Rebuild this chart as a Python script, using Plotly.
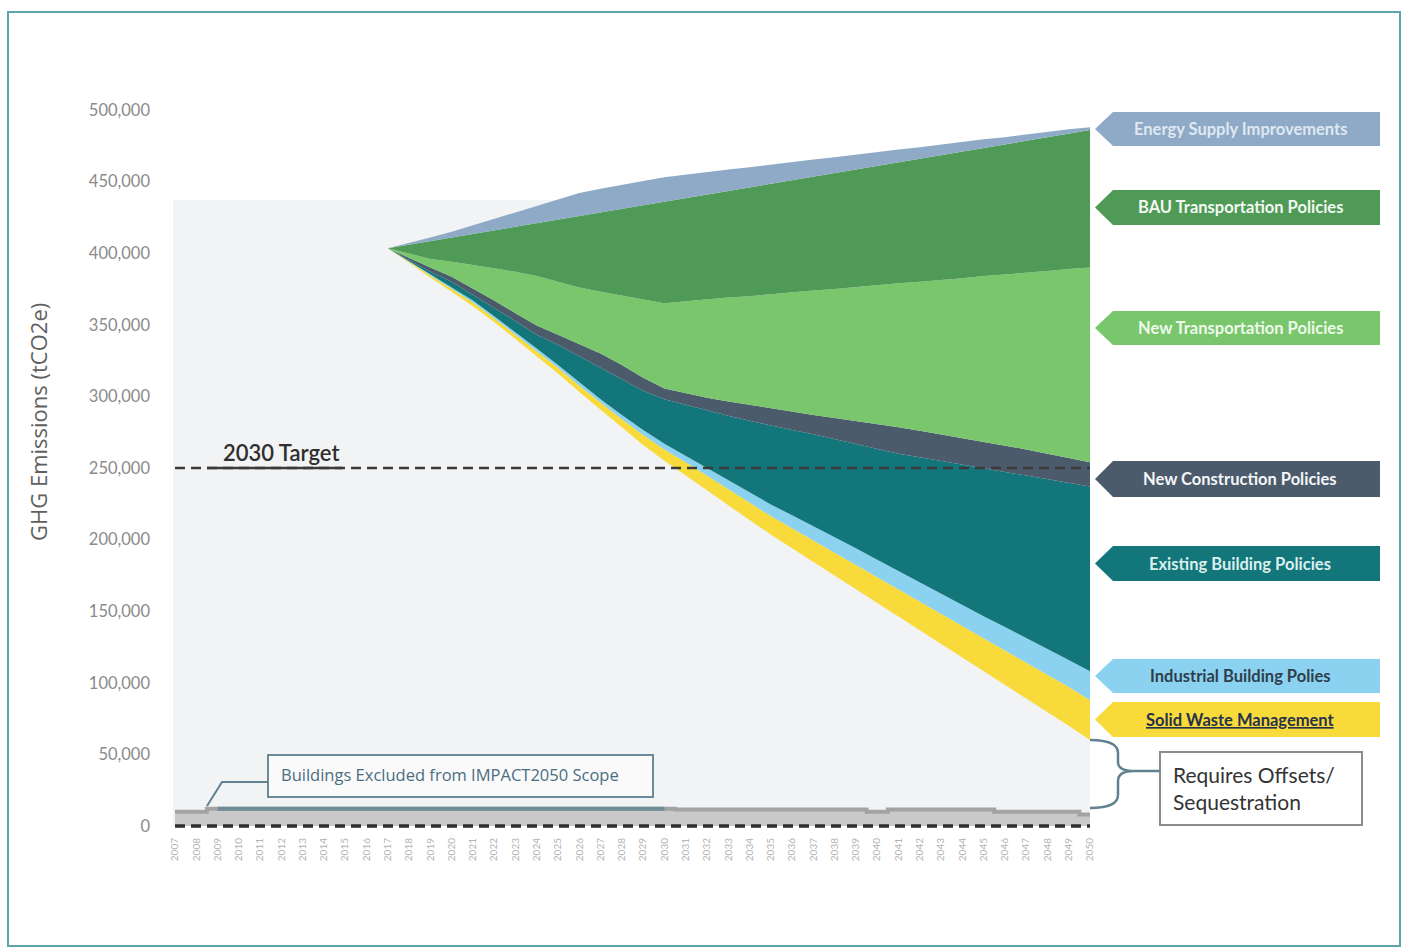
import plotly.graph_objects as go

# ---------------- data ----------------
YEARS_ALL = list(range(2007, 2051))
YEARS = list(range(2017, 2051))
TICK_YEARS = [str(y) for y in YEARS_ALL]

# Emission trajectories (thousand tCO2e): top edge of each wedge, bottom to top
REMAINING_KT = [403.5, 393, 383, 373, 363, 352, 340, 328, 316, 303,
                290.5, 278, 266, 255, 245, 234.5, 224, 213.5, 203.5, 194,
                184.5, 175, 165.5, 156, 146.5, 137, 127.5, 118, 108.5, 99,
                89.5, 80, 70, 60]
SOLID_WASTE_KT = [403.5, 394, 384.5, 375, 365.5, 354.5, 343, 331.5, 320, 307.5,
                  295.5, 284, 273, 263, 254, 244.5, 235, 225.5, 216.5, 208,
                  199.5, 191, 182.5, 174, 165.5, 157, 148.5, 140, 131.5, 123,
                  114.5, 106, 97, 88]
INDUSTRIAL_KT = [403.5, 394.5, 385.5, 376, 367, 356, 345, 333.5, 322, 310,
                 298, 287, 276.5, 267, 258.5, 249.5, 241, 232.5, 224.5, 217,
                 209.5, 202, 194, 186, 178, 170, 162, 154, 146.5, 139,
                 131.5, 124, 116, 108]
EXISTING_BLDG_KT = [403.5, 395.5, 387, 380, 371, 361.5, 352.5, 343, 336, 328,
                    320, 312, 304, 298, 294, 290, 286.5, 283, 279.5, 276.5,
                    273.5, 270, 266.5, 263, 260, 257.5, 255, 252.5, 250, 247.5,
                    245, 242.5, 240, 237]
NEW_CONSTR_KT = [403.5, 396.5, 390, 383.5, 375.5, 367, 358, 349.5, 343, 336.5,
                 330, 322, 313, 305.5, 302, 299, 296.5, 294, 291.5, 289,
                 287, 285, 283, 281, 278.5, 276, 273.5, 271, 268.5, 266,
                 263, 260, 257, 254]
NEW_TRANSP_KT = [403.5, 399.5, 396, 394, 392, 389.5, 387, 384, 380, 376,
                 373, 370.5, 368, 365, 366.5, 368, 369, 370, 371.5, 373,
                 374, 375, 376.5, 378, 379, 380, 381, 382.5, 384, 385,
                 386, 387.5, 389, 390]
BAU_TRANSP_KT = [403.5, 406, 408.5, 411, 413.5, 416, 418.5, 421, 423.5, 426,
                 428, 430.5, 433, 435.5, 438, 440.5, 443, 445.5, 448, 451,
                 453.5, 456, 458.5, 461, 463.5, 466, 468.5, 471, 473.5, 476,
                 478.5, 481, 483.5, 486]
ENERGY_SUPPLY_KT = [403.5, 407, 411, 415, 419.5, 424, 428.5, 433, 437.5, 442,
                    445, 448, 450.5, 453, 455, 456.5, 458.5, 460, 462, 463.5,
                    465.5, 467, 469, 470.5, 472.5, 474, 476, 477.5, 479.5, 481,
                    483, 484.5, 486.5, 488]

# Buildings excluded from IMPACT2050 scope (thousand tCO2e), 2007-2050
EXCLUDED_KT = [10, 10] + [12] * 22 + [11.5] * 9 + [10] + [11.5] * 5 + [10] * 4 + [8]

TARGET_2030 = 250000
NET_ZERO = 0
Y_TICKS = list(range(0, 500001, 50000))
Y_TICK_LABELS = [f"{v:,}" for v in Y_TICKS]

SERIES = [
    ("Solid Waste Management", SOLID_WASTE_KT),
    ("Industrial Building Polies", INDUSTRIAL_KT),
    ("Existing Building Policies", EXISTING_BLDG_KT),
    ("New Construction Policies", NEW_CONSTR_KT),
    ("New Transportation Policies", NEW_TRANSP_KT),
    ("BAU Transportation Policies", BAU_TRANSP_KT),
    ("Energy Supply Improvements", ENERGY_SUPPLY_KT),
]

# ---------------- styling ----------------
COLORS = {
    "Solid Waste Management": "#f8da3a",
    "Industrial Building Polies": "#8ad2f0",
    "Existing Building Policies": "#12767a",
    "New Construction Policies": "#4b5b6b",
    "New Transportation Policies": "#79c66d",
    "BAU Transportation Policies": "#4f9a56",
    "Energy Supply Improvements": "#8eaac6",
}
TAG_TEXT = {
    "Solid Waste Management": "#26324a",
    "Industrial Building Polies": "#2f3e4c",
    "Existing Building Policies": "#dcefef",
    "New Construction Policies": "#f4f6f8",
    "New Transportation Policies": "#eef9ea",
    "BAU Transportation Policies": "#f2f8f2",
    "Energy Supply Improvements": "#dfe8f2",
}
# pixel rows of the arrow tags on the right (top, bottom)
TAG_ROWS = {
    "Energy Supply Improvements": (112, 146),
    "BAU Transportation Policies": (190, 225),
    "New Transportation Policies": (311, 345),
    "New Construction Policies": (461, 497),
    "Existing Building Policies": (546, 581),
    "Industrial Building Polies": (659, 693),
    "Solid Waste Management": (702, 737),
}

W, H = 1405, 952
ML, MR, MT, MB = 175, 315, 110, 122
PW, PH = W - ML - MR, H - MT - MB


def px(x):
    return (x - ML) / PW


def py(y):
    return (H - MB - y) / PH


def pt(x, y):
    return f"{px(x):.5f},{py(y):.5f}"


fig = go.Figure()

# remaining emissions (base of the wedges)
fig.add_trace(go.Scatter(x=YEARS, y=[v * 1000 for v in REMAINING_KT], mode="lines",
                         line=dict(width=0, color="#f2f3f5"), hoverinfo="skip",
                         showlegend=False))
for name, vals in SERIES:
    fig.add_trace(go.Scatter(x=YEARS, y=[v * 1000 for v in vals], mode="lines",
                             line=dict(width=0, color=COLORS[name]), fill="tonexty",
                             fillcolor=COLORS[name], name=name, hoverinfo="skip",
                             showlegend=False))

# excluded buildings band
fig.add_trace(go.Scatter(x=YEARS_ALL, y=[v * 1000 for v in EXCLUDED_KT], mode="lines",
                         line=dict(width=4, color="#a3a3a3", shape="hvh"), fill="tozeroy",
                         fillcolor="#c9c9c9", hoverinfo="skip", showlegend=False))
fig.add_trace(go.Scatter(x=YEARS_ALL[2:24], y=[v * 1000 for v in EXCLUDED_KT[2:24]], mode="lines",
                         line=dict(width=4, color="#6f8d98", shape="hvh"),
                         hoverinfo="skip", showlegend=False))

# net zero dashed line
fig.add_trace(go.Scatter(x=YEARS_ALL, y=[NET_ZERO] * len(YEARS_ALL), mode="lines",
                         line=dict(width=3.5, color="#2e2e2e", dash="10px,6px"),
                         hoverinfo="skip", showlegend=False))
# 2030 target
fig.add_trace(go.Scatter(x=YEARS_ALL, y=[TARGET_2030] * len(YEARS_ALL), mode="lines",
                         line=dict(width=2.5, color="#3a3a3a", dash="10px,6px"),
                         hoverinfo="skip", showlegend=False))

shapes = []
annotations = []

# light backdrop of the plot area
shapes.append(dict(type="rect", xref="paper", yref="paper", x0=px(173), x1=px(1090),
                   y0=py(826), y1=py(200), fillcolor="#f2f3f5", line=dict(width=0),
                   layer="below"))
# outer frame
shapes.append(dict(type="rect", xref="paper", yref="paper", x0=px(8), x1=px(1400),
                   y0=py(946), y1=py(12), line=dict(color="#5da6ae", width=2),
                   fillcolor="rgba(0,0,0,0)", layer="below"))

# underline of "2030 Target"
shapes.append(dict(type="line", xref="paper", yref="y", x0=px(207), x1=px(342),
                   y0=TARGET_2030, y1=TARGET_2030, line=dict(color="#3a3a3a", width=2.5)))
annotations.append(dict(xref="paper", yref="y", x=px(281), y=TARGET_2030, yshift=0,
                        xanchor="center", text="2030 Target", showarrow=False,
                        yanchor="bottom",
                        font=dict(family="Lato", size=22, color="#2f2f2f", weight=600)))

# arrow tags on the right
X_TIP, X_BODY, X_END = 1095, 1113, 1380
for name, (t, b) in TAG_ROWS.items():
    c = (t + b) / 2
    path = ("M " + pt(X_TIP, c) + " L " + pt(X_BODY, t) + " L " + pt(X_END, t) +
            " L " + pt(X_END, b) + " L " + pt(X_BODY, b) + " Z")
    shapes.append(dict(type="path", xref="paper", yref="paper", path=path,
                       fillcolor=COLORS[name], line=dict(width=0)))
    label = f"<b>{name}</b>"
    if name == "Solid Waste Management":
        label = f"<b><span style='text-decoration:underline'>{name}</span></b>"
    annotations.append(dict(xref="paper", yref="paper", x=px(1240), y=py(c),
                            xanchor="center", yanchor="middle",
                            text=label, showarrow=False,
                            font=dict(family="Lato", size=16.5, color=TAG_TEXT[name])))

# "Requires Offsets / Sequestration" box and brace
shapes.append(dict(type="rect", xref="paper", yref="paper", x0=px(1160), x1=px(1362),
                   y0=py(825), y1=py(752), line=dict(color="#8c8c8c", width=2),
                   fillcolor="white"))
brace = ("M " + pt(1090, 740) + " Q " + pt(1118, 740) + " " + pt(1118, 753) +
         " L " + pt(1118, 762) + " Q " + pt(1118, 771) + " " + pt(1134, 771) +
         " L " + pt(1160, 771) +
         " M " + pt(1134, 771) + " Q " + pt(1118, 771) + " " + pt(1118, 781) +
         " L " + pt(1118, 795) + " Q " + pt(1118, 808) + " " + pt(1090, 808))
shapes.append(dict(type="path", xref="paper", yref="paper", path=brace,
                   line=dict(color="#5f8190", width=2.5)))
annotations.append(dict(xref="paper", yref="paper", x=px(1171), y=py(788),
                        xanchor="left", yanchor="middle", align="left",
                        text="Requires Offsets/<br>Sequestration", showarrow=False,
                        font=dict(family="Lato", size=21, color="#333333")))

# "Buildings Excluded" callout
shapes.append(dict(type="rect", xref="paper", yref="paper", x0=px(268), x1=px(653),
                   y0=py(797), y1=py(755), line=dict(color="#6b8b98", width=2),
                   fillcolor="rgba(255,255,255,0.6)"))
leader = "M " + pt(207, 806) + " L " + pt(222, 782) + " L " + pt(268, 782)
shapes.append(dict(type="path", xref="paper", yref="paper", path=leader,
                   line=dict(color="#5f8190", width=2)))
annotations.append(dict(xref="paper", yref="paper", x=px(279), y=py(774),
                        xanchor="left", yanchor="middle",
                        text="Buildings Excluded from IMPACT2050 Scope", showarrow=False,
                        font=dict(family="Open Sans", size=16.5, color="#4a6e80")))

# y-axis title
annotations.append(dict(xref="paper", yref="paper", x=px(38), y=py(422),
                        xanchor="center", yanchor="middle",
                        text="GHG Emissions (tCO2e)", textangle=-90, showarrow=False,
                        font=dict(family="Open Sans", size=22, color="#606060")))

fig.update_layout(
    width=W, height=H,
    margin=dict(l=ML, r=MR, t=MT, b=MB, pad=0),
    paper_bgcolor="white", plot_bgcolor="rgba(0,0,0,0)",
    showlegend=False,
    shapes=shapes, annotations=annotations,
    xaxis=dict(range=[2007, 2050], tickmode="array", tickvals=YEARS_ALL,
               ticktext=TICK_YEARS, tickangle=-90, showgrid=False, zeroline=False,
               showline=False, ticks="", ticklabelstandoff=5,
               tickfont=dict(family="Lato", size=10, color="#b3b3b3")),
    yaxis=dict(range=[-2800, 500000], tickmode="array", tickvals=Y_TICKS,
               ticktext=Y_TICK_LABELS, showgrid=False, zeroline=False,
               showline=False, ticks="", ticklabelstandoff=24,
               tickfont=dict(family="Lato", size=16.5, color="#8a8a8a")),
)

fig.write_html("out.html")
